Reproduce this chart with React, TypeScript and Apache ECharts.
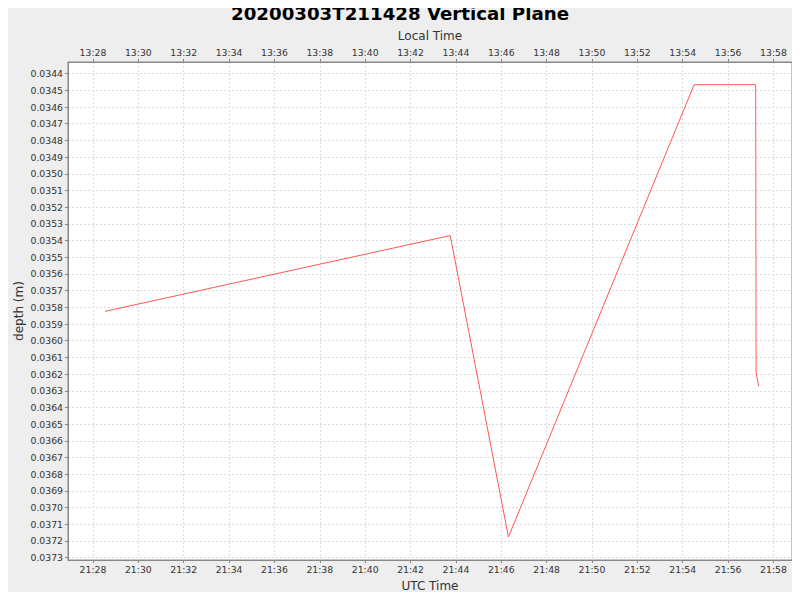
import { useEffect, useRef } from "react";
import * as echarts from "echarts";

// UTC sample times and depths (m)
const times = ["21:28:32", "21:43:45", "21:46:19", "21:54:30", "21:57:13", "21:57:14", "21:57:21"];
const depths = [0.035824, 0.03537, 0.037176, 0.034466, 0.034466, 0.036193, 0.036273];

// tick labels
const utcTicks = ["21:28", "21:30", "21:32", "21:34", "21:36", "21:38", "21:40", "21:42", "21:44", "21:46", "21:48", "21:50", "21:52", "21:54", "21:56", "21:58"];
const depthTicks = [
  "0.0344", "0.0345", "0.0346", "0.0347", "0.0348", "0.0349", "0.0350", "0.0351", "0.0352", "0.0353",
  "0.0354", "0.0355", "0.0356", "0.0357", "0.0358", "0.0359", "0.0360", "0.0361", "0.0362", "0.0363",
  "0.0364", "0.0365", "0.0366", "0.0367", "0.0368", "0.0369", "0.0370", "0.0371", "0.0372", "0.0373",
];
const localOffsetHours = -8;

const toMin = (s: string) => {
  const p = s.split(":").map(Number);
  return p[0] * 60 + p[1] + (p[2] || 0) / 60;
};
const pad = (n: number) => (n < 10 ? "0" + n : "" + n);
const fmt = (v: number, shift: number) => {
  const m = Math.round(v) + shift * 60;
  const mm = ((m % 1440) + 1440) % 1440;
  return pad(Math.floor(mm / 60)) + ":" + pad(mm % 60);
};

const FONT = "DejaVu Sans";

export default function App() {
  const chartRef = useRef<HTMLDivElement>(null);

  useEffect(() => {
    if (!chartRef.current) return;
    const chart = echarts.init(chartRef.current, null, { renderer: "svg" });

    const xTickVals = utcTicks.map(toMin);
    const yTickVals = depthTicks.map(Number);
    const xMin = toMin("21:26:54");
    const xMax = toMin("21:58:49");

    const baseX = (shift: number, position: "top" | "bottom", name: string, gap: number) => ({
      type: "value" as const,
      position,
      min: xMin,
      max: xMax,
      name,
      nameLocation: "middle" as const,
      nameGap: gap,
      nameMoveOverlap: false,
      nameTextStyle: { fontFamily: FONT, fontSize: 12, color: "#333" },
      axisLine: { show: true, lineStyle: { color: "#888" } },
      axisTick: { show: true, length: 3, customValues: xTickVals, lineStyle: { color: "#888" } },
      axisLabel: {
        customValues: xTickVals,
        margin: 5,
        fontFamily: FONT,
        fontSize: 9.3,
        color: "#333",
        formatter: (v: number) => fmt(v, shift),
      },
      splitLine: {
        show: position === "bottom",
        lineStyle: { color: "#dcdcdc", type: [2, 2] as any, width: 1 },
      },
    });

    chart.setOption({
      animation: false,
      backgroundColor: "#eeeeee",
      title: {
        text: "20200303T211428 Vertical Plane",
        left: "center",
        top: 4,
        padding: 0,
        textStyle: { fontFamily: FONT, fontSize: 18.2, fontWeight: "bold", color: "#000" },
      },
      grid: {
        left: 68,
        right: 8,
        top: 62,
        bottom: 40,
        show: true,
        backgroundColor: "#ffffff",
        borderColor: "#888",
        borderWidth: 1,
      },
      xAxis: [baseX(0, "bottom", "UTC Time", 20), baseX(localOffsetHours, "top", "Local Time", 20)],
      yAxis: {
        type: "value",
        inverse: true,
        min: 0.03433,
        max: 0.037314,
        name: "depth (m)",
        nameLocation: "middle",
        nameGap: 43,
        nameMoveOverlap: false,
        nameTextStyle: { fontFamily: FONT, fontSize: 12, color: "#333" },
        axisLine: { show: true, lineStyle: { color: "#888" } },
        axisTick: { show: true, length: 3, customValues: yTickVals, lineStyle: { color: "#888" } },
        axisLabel: {
          customValues: yTickVals,
          margin: 5,
          fontFamily: FONT,
          fontSize: 9.3,
          color: "#333",
          formatter: (v: number) => v.toFixed(4),
        },
        splitLine: { show: true, lineStyle: { color: "#dcdcdc", type: [2, 2] as any, width: 1 } },
      },
      series: [
        {
          type: "line",
          xAxisIndex: 0,
          data: times.map((t, i) => [toMin(t), depths[i]]),
          showSymbol: false,
          symbol: "none",
          lineStyle: { color: "#ff5555", width: 1 },
        },
      ],
    });

    return () => chart.dispose();
  }, []);

  return <div ref={chartRef} style={{ width: 800, height: 600, margin: -8 }} />;
}
